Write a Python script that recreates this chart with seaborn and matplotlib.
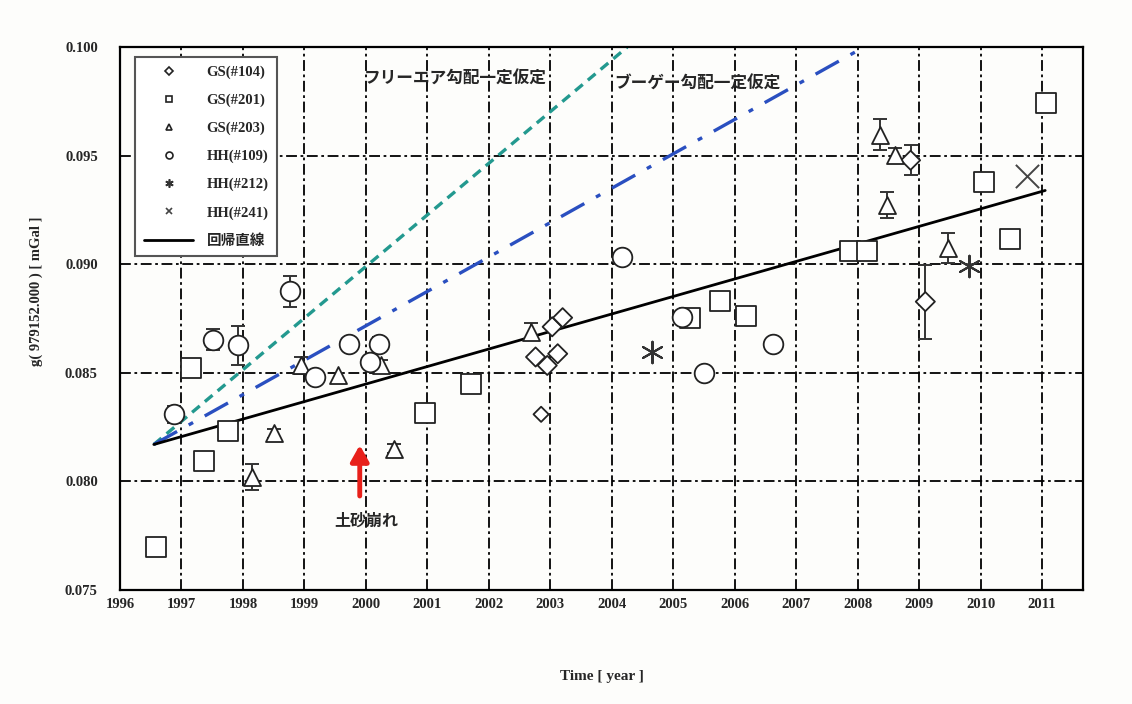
import numpy as np
import pandas as pd
import matplotlib
matplotlib.use("Agg")
import matplotlib.pyplot as plt
from matplotlib.ticker import MultipleLocator, FormatStrFormatter
from matplotlib.lines import Line2D
import seaborn as sns

# ---------------- data ----------------
gs104_x = [2002.76, 2002.95, 2003.03, 2003.20, 2003.12, 2002.85, 2008.86, 2009.10]
gs104_y = [0.08573, 0.08534, 0.08712, 0.08754, 0.08588, 0.08309, 0.09479, 0.08828]
gs104_e = [0, 0, 0, 0, 0, 0, 0.0007, 0.0017]

gs201_x = [1996.58, 1997.15, 1997.37, 1997.76, 2000.96, 2001.71, 2005.27, 2005.76,
           2006.18, 2007.88, 2008.15, 2010.05, 2010.48, 2011.06]
gs201_y = [0.0770, 0.08522, 0.08092, 0.08232, 0.08317, 0.08449, 0.08751, 0.08832,
           0.08762, 0.09063, 0.09063, 0.09380, 0.09116, 0.09741]

gs203_x = [1998.15, 1998.51, 1998.94, 1999.54, 2000.24, 2000.45, 2002.68, 2008.37,
           2008.48, 2008.60, 2009.47]
gs203_y = [0.08019, 0.08221, 0.08534, 0.08491, 0.08537, 0.08150, 0.08689, 0.09597,
           0.09275, 0.09505, 0.09076]
gs203_e = [0.0006, 0.0002, 0.0004, 0, 0.0002, 0.0002, 0.0004, 0.0007, 0.0006, 0.0003, 0.0007]

hh109_x = [1996.88, 1997.52, 1997.92, 1998.76, 1999.17, 1999.73, 2000.07, 2000.21,
           2004.16, 2005.15, 2005.50, 2006.62]
hh109_y = [0.08309, 0.08653, 0.08627, 0.08875, 0.08480, 0.08635, 0.08550, 0.08635,
           0.09033, 0.08759, 0.08500, 0.08632]
hh109_e = [0.0004, 0.0005, 0.0009, 0.0007, 0, 0, 0, 0.0003, 0, 0, 0, 0]

hh212_x = [2004.66, 2009.81]
hh212_y = [0.08596, 0.08993]

hh241_x = [2010.75]
hh241_y = [0.09406]

reg_x = [1996.55, 2011.05]
reg_y = [0.0817, 0.0934]
fa_x = [1996.55, 2004.25]
fa_y = [0.0817, 0.1000]
bg_x = [1996.55, 2008.10]
bg_y = [0.0817, 0.1000]

year_ticks = list(range(1996, 2012))
y_ticks = [0.075, 0.080, 0.085, 0.090, 0.095, 0.100]

series_labels = ["GS(#104)", "GS(#201)", "GS(#203)", "HH(#109)", "HH(#212)", "HH(#241)"]
reg_label = "回帰直線"
fa_text = "フリーエア勾配一定仮定"
bg_text = "ブーゲー勾配一定仮定"
arrow_text = "土砂崩れ"
xlabel = "Time [ year ]"
ylabel = "g( 979152.000 ) [ mGal ]"

# ---------------- style ----------------
sns.set_theme(style="white")
plt.rcParams['font.family'] = ['Liberation Serif', 'Noto Sans CJK JP']
jp = ['Noto Sans CJK JP', 'DejaVu Sans']

fig = plt.figure(figsize=(11.32, 7.04), dpi=100)
fig.patch.set_facecolor("#fdfdfb")
ax = fig.add_axes([0.106, 0.162, 0.851, 0.771])
ax.set_facecolor("#fdfdfb")

# grid
ax.set_xlim(1996, 2011.67)
ax.set_ylim(0.075, 0.100)
ax.xaxis.set_major_locator(MultipleLocator(1))
ax.xaxis.set_minor_locator(MultipleLocator(0.5))
ax.yaxis.set_major_locator(MultipleLocator(0.005))
ax.yaxis.set_minor_locator(MultipleLocator(0.001))
ax.grid(True, which="major", color="black", linestyle=(0, (6, 2, 1.5, 2)), linewidth=1.3)
ax.set_axisbelow(True)

# lines
sns.lineplot(x=fa_x, y=fa_y, ax=ax, color="#23998f", linestyle=(0, (3, 2)), linewidth=2.4, zorder=2)
sns.lineplot(x=bg_x, y=bg_y, ax=ax, color="#2a4fc0", linestyle=(0, (8, 4, 1.5, 4)), linewidth=2.4, zorder=2)
sns.lineplot(x=reg_x, y=reg_y, ax=ax, color="black", linewidth=2.0, zorder=3)

edge = "#222222"
mk = dict(facecolor="white", edgecolor=edge, linewidth=1.3, zorder=5, legend=False)

def errs(x, y, e):
    for xi, yi, ei in zip(x, y, e):
        if ei > 0:
            ax.errorbar([xi], [yi], yerr=[ei], fmt="none", ecolor="#333333",
                        elinewidth=1.4, capsize=5, capthick=1.4, zorder=4)

errs(gs104_x, gs104_y, gs104_e)
errs(gs203_x, gs203_y, gs203_e)
errs(hh109_x, hh109_y, hh109_e)

sizes104 = [95, 95, 95, 95, 95, 60, 95, 95]
sns.scatterplot(x=gs104_x, y=gs104_y, ax=ax, marker="D", s=sizes104, **mk)
sns.scatterplot(x=gs201_x, y=gs201_y, ax=ax, marker="s", s=190, **mk)
sns.scatterplot(x=gs203_x, y=gs203_y, ax=ax, marker="^", s=150, **mk)
sns.scatterplot(x=hh109_x, y=hh109_y, ax=ax, marker="o", s=200, **mk)
sns.scatterplot(x=hh212_x, y=hh212_y, ax=ax, marker=(6, 2, 0), s=240, color="#333333", linewidth=1.5, zorder=5, legend=False)
sns.scatterplot(x=hh241_x, y=hh241_y, ax=ax, marker="x", s=280, color="#444444", linewidth=1.4, zorder=5, legend=False)

# ticks
ax.set_xticks(year_ticks)
ax.set_yticks(y_ticks)
ax.yaxis.set_major_formatter(FormatStrFormatter("%.3f"))
ax.tick_params(axis="both", which="both", direction="in", length=4, width=1, color="black")
ax.tick_params(axis="x", which="major", length=0, pad=6)
ax.tick_params(axis="y", which="major", length=0, pad=16)
for lab in ax.get_xticklabels() + ax.get_yticklabels():
    lab.set_fontweight("bold")
    lab.set_fontsize(10.5)
for sp in ax.spines.values():
    sp.set_color("black")
    sp.set_linewidth(1.6)

ax.set_xlabel(xlabel, fontsize=11, fontweight="bold", labelpad=42)
ax.set_ylabel(ylabel, fontsize=10.5, fontweight="bold", labelpad=14)
ax.yaxis.set_label_coords(-0.08, 0.55)

# annotations
ax.text(2001.45, 0.09855, fa_text, fontsize=12, fontweight="bold", family=jp, ha="center", va="center")
ax.text(2005.4, 0.09832, bg_text, fontsize=12, fontweight="bold", family=jp, ha="center", va="center")
ax.annotate("", xy=(1999.9, 0.0818), xytext=(1999.9, 0.0792),
            arrowprops=dict(arrowstyle="-|>,head_length=0.8,head_width=0.45", color="#e8201a", lw=3.5),
            zorder=6)
ax.text(2000.0, 0.0782, arrow_text, fontsize=11.5, fontweight="bold", family=jp, ha="center", va="center")

# legend
handles = [
    Line2D([], [], marker="D", linestyle="none", markersize=4, markerfacecolor="white", markeredgecolor=edge, markeredgewidth=1.2),
    Line2D([], [], marker="s", linestyle="none", markersize=5, markerfacecolor="white", markeredgecolor=edge, markeredgewidth=1.2),
    Line2D([], [], marker="^", linestyle="none", markersize=5, markerfacecolor="white", markeredgecolor=edge, markeredgewidth=1.2),
    Line2D([], [], marker="o", linestyle="none", markersize=5, markerfacecolor="white", markeredgecolor=edge, markeredgewidth=1.2),
    Line2D([], [], marker=(6, 2, 0), linestyle="none", markersize=6, color="#333333", markeredgewidth=1.2),
    Line2D([], [], marker="x", linestyle="none", markersize=5, color="#444444", markeredgewidth=1.2),
    Line2D([], [], color="black", linewidth=2.0),
]
leg = ax.legend(handles, series_labels + [reg_label], loc="upper left",
                bbox_to_anchor=(0.0156, 0.982), borderaxespad=0, frameon=True, fancybox=False,
                labelspacing=1.0, handlelength=3.4, handletextpad=0.9, borderpad=0.6,
                prop={"family": ['Liberation Serif', 'Noto Sans CJK JP'], "weight": "bold", "size": 10.5})
leg.get_frame().set_edgecolor("#555555")
leg.get_frame().set_linewidth(1.5)
leg.get_frame().set_facecolor("white")
leg.get_frame().set_alpha(1)
leg.set_zorder(10)

fig.savefig("out.png", dpi=100, facecolor=fig.get_facecolor())
